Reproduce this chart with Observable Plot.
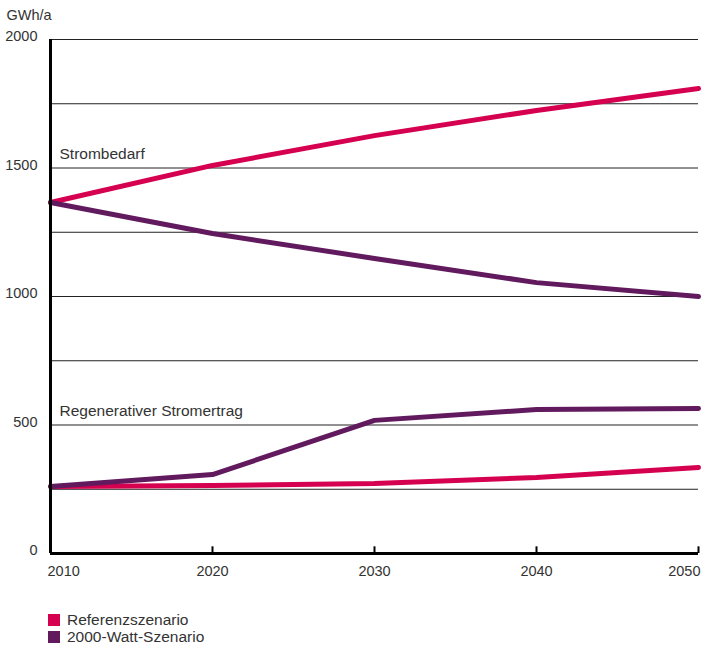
<!DOCTYPE html>
<html>
<head>
<meta charset="utf-8">
<script src="https://cdn.jsdelivr.net/npm/d3@7"></script>
<script src="https://cdn.jsdelivr.net/npm/@observablehq/plot@0.6"></script>
<style>
  body { margin: 0; background: #fff; font-family: "Liberation Sans", Arial, sans-serif; }
  #wrap { width: 705px; }
  #wrap svg { display: block; }
  #wrap svg text { font-size: 14.5px !important; }
  #wrap svg g.lbl text { font-size: 15.5px !important; }
  .legend { margin: 21px 0 0 48px; font-size: 15.5px; color: #333; line-height: 17px; }
  .legend .row { display: flex; align-items: center; height: 17px; }
  .legend .sw { display: inline-block; width: 12px; height: 12px; margin-right: 7px; }
</style>
</head>
<body>
<div id="wrap"></div>
<script>
const years = [2010, 2020, 2030, 2040, 2050];
const scenarios = ["Referenzszenario", "2000-Watt-Szenario"];
const colors = ["#d5004f", "#621a5e"];
// Strombedarf (GWh/a)
const bedarfReferenz = [1366, 1510, 1626, 1724, 1809];
const bedarf2000Watt = [1366, 1245, 1148, 1054, 1000];
// Regenerativer Stromertrag (GWh/a)
const ertragReferenz = [261, 265, 272, 296, 335];
const ertrag2000Watt = [261, 307, 518, 560, 564];
const yTicks = [0, 500, 1000, 1500, 2000];
const gridLines = [250, 500, 750, 1000, 1250, 1500, 1750, 2000];
const groupLabels = [
  {text: "Strombedarf", value: 1500},
  {text: "Regenerativer Stromertrag", value: 500}
];

const rows = [];
function add(vals, scenario, group) {
  years.forEach((y, i) => rows.push({year: y, value: vals[i], scenario, group}));
}
add(bedarfReferenz, scenarios[0], "bedarf");
add(bedarf2000Watt, scenarios[1], "bedarf");
add(ertragReferenz, scenarios[0], "ertrag");
add(ertrag2000Watt, scenarios[1], "ertrag");

const font = "Liberation Sans, Arial, sans-serif";
const fmt = d => String(d);
const plot = Plot.plot({
  width: 705,
  height: 590,
  marginLeft: 50,
  marginRight: 7,
  marginTop: 39,
  marginBottom: 37,
  style: {fontFamily: font, fontSize: "14.5px", color: "#333", background: "#fff"},
  x: {domain: [2010, 2050]},
  y: {domain: [0, 2000]},
  color: {domain: scenarios, range: colors},
  marks: [
    Plot.ruleY(gridLines, {stroke: "#222", strokeWidth: 1}),
    Plot.axisY(yTicks, {tickSize: 0, dx: -4, dy: -3, textAnchor: "end", label: null, tickFormat: fmt, fill: "#333"}),
    Plot.axisX([2010], {tickSize: 0, textAnchor: "start", dx: -3, dy: 3, label: null, tickFormat: fmt, fill: "#333"}),
    Plot.axisX([2020, 2030, 2040], {tickSize: 0, dy: 3, label: null, tickFormat: fmt, fill: "#333"}),
    Plot.axisX([2050], {tickSize: 0, textAnchor: "end", dx: 2, dy: 3, label: null, tickFormat: fmt, fill: "#333"}),
    Plot.text(["GWh/a"], {frameAnchor: "top-left", dx: -44, dy: -30, textAnchor: "start", fill: "#333"}),
    Plot.text(groupLabels, {x: 2010, y: "value", text: "text", textAnchor: "start", dx: 9, dy: -14, fill: "#333", className: "lbl"}),
    Plot.line(rows, {x: "year", y: "value", z: d => d.scenario + d.group, stroke: "scenario", strokeWidth: 5, strokeLinecap: "round", strokeLinejoin: "round"}),
    Plot.ruleX([2020, 2030, 2040, 2050], {y1: 0, y2: 26, stroke: "#000", strokeWidth: 2}),
    Plot.ruleY([0], {stroke: "#000", strokeWidth: 3}),
    Plot.ruleX([2010], {stroke: "#000", strokeWidth: 3})
  ]
});
const wrap = document.getElementById("wrap");
wrap.appendChild(plot);
const legend = document.createElement("div");
legend.className = "legend";
scenarios.forEach((s, i) => {
  const row = document.createElement("div");
  row.className = "row";
  const sw = document.createElement("span");
  sw.className = "sw";
  sw.style.background = colors[i];
  row.appendChild(sw);
  row.appendChild(document.createTextNode(s));
  legend.appendChild(row);
});
wrap.appendChild(legend);
</script>
</body>
</html>
